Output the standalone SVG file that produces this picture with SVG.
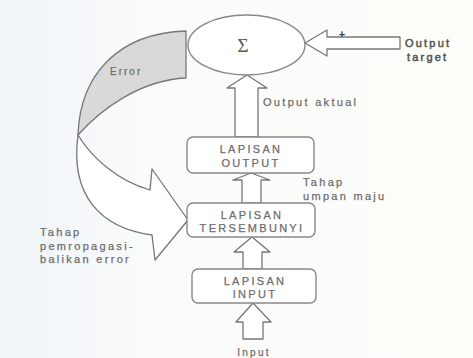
<svg xmlns="http://www.w3.org/2000/svg" width="473" height="358" viewBox="0 0 473 358">
<defs>
<linearGradient id="bg" x1="0" y1="0" x2="1" y2="0">
<stop offset="0" stop-color="#eef4f8"/>
<stop offset="0.3" stop-color="#fafbfb"/>
<stop offset="1" stop-color="#fdfdf9"/>
</linearGradient>
<style>
.ln{fill:#ffffff;stroke:#777777;stroke-width:1.3;stroke-linejoin:round}
.box{fill:#ffffff;stroke:#888888;stroke-width:1.4}
.t{font-family:"Liberation Sans",Arial,sans-serif;font-size:11px;fill:#666666;stroke:#777777;stroke-width:0.25px;letter-spacing:2.3px}
.tb{font-family:"Liberation Sans",Arial,sans-serif;font-size:11px;fill:#555555;stroke:#555555;stroke-width:0.5px;letter-spacing:2.2px}
.c{text-anchor:middle}
</style>
</defs>
<rect width="473" height="358" fill="url(#bg)"/>

<g id="connectors">
<path id="error-band" d="M186,31 C118,33 80,75 78,135 C100,110 140,80 186,78 Z" fill="#d9d9d9" stroke="#777777" stroke-width="1.3" stroke-linejoin="round"/>
<path id="backprop-arrow" class="ln" d="M78,135 C90,155 115,180 150,190 L152,169 L188,220 L155,260 L152,235 C100,228 70,195 78,135 Z"/>
<path id="target-arrow" class="ln" d="M305,43 L327,30 L327,37 L400,37 L400,49 L327,49 L327,56 Z"/>
<path id="actual-arrow" class="ln" d="M247,75 L267,88 L258,88 L258,137 L235,137 L235,88 L227,88 Z"/>
<path id="ff-arrow1" class="ln" d="M251,173 L270,180 L261,180 L261,203 L242,203 L242,180 L233,180 Z"/>
<path id="ff-arrow2" class="ln" d="M252,237 L270,252 L262,252 L262,269 L243,269 L243,252 L234,252 Z"/>
<path id="input-arrow" class="ln" d="M253,303 L271,322 L263,322 L263,339 L243,339 L243,322 L236,322 Z"/>
</g>

<g id="sum">
<ellipse cx="246.5" cy="45" rx="58.5" ry="30" class="box"/>
<text x="243" y="52" class="c" style="font-family:'Liberation Serif',serif;font-size:19px;fill:#555555">Σ</text>
</g>

<g id="output-layer">
<rect x="187" y="137" width="127" height="36" rx="6" class="box"/>
<text x="251" y="153" class="t c">LAPISAN</text>
<text x="251" y="167" class="t c">OUTPUT</text>
</g>

<g id="hidden-layer">
<rect x="187" y="203" width="128" height="34" rx="6" class="box"/>
<text x="252" y="219" class="t c">LAPISAN</text>
<text x="252" y="232" class="t c">TERSEMBUNYI</text>
</g>

<g id="input-layer">
<rect x="192" y="269" width="124" height="34" rx="6" class="box"/>
<text x="255" y="285" class="t c">LAPISAN</text>
<text x="255" y="298" class="t c">INPUT</text>
</g>

<g id="labels">
<text x="110" y="75" class="t" style="font-size:10px;letter-spacing:2px">Error</text>
<text x="342" y="38" class="c" style="font-family:'Liberation Sans',Arial,sans-serif;font-size:11px;font-weight:bold;fill:#444444">+</text>
<text x="405" y="47" class="tb">Output</text>
<text x="407" y="61" class="tb">target</text>
<text x="263" y="106" class="t">Output aktual</text>
<text x="303" y="186" class="t">Tahap</text>
<text x="303" y="200" class="t">umpan maju</text>
<text x="40" y="236" class="t">Tahap</text>
<text x="40" y="250" class="t">pemropagasi-</text>
<text x="40" y="263" class="t">balikan error</text>
<text x="254" y="356" class="t c" style="font-size:10px">Input</text>
</g>
</svg>
